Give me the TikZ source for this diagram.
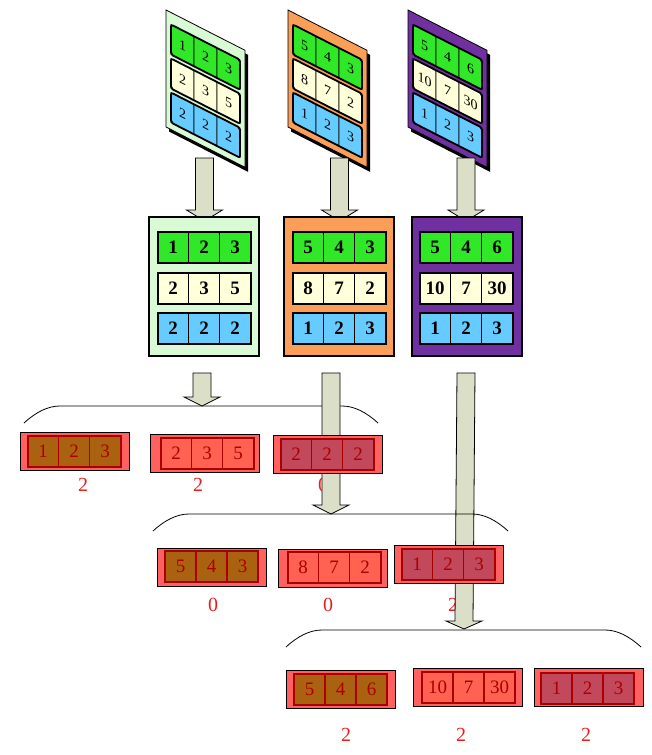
\documentclass[tikz,border=0pt]{standalone}
\usepackage{fontspec}
\setmainfont{Liberation Serif}
\usepackage{tikz}
\usetikzlibrary{calc}

\definecolor{mintbg}{RGB}{218,250,214}
\definecolor{orangebg}{RGB}{250,158,88}
\definecolor{purplebg}{RGB}{112,48,160}
\definecolor{greencell}{RGB}{48,232,40}
\definecolor{creamcell}{RGB}{255,255,218}
\definecolor{bluecell}{RGB}{102,204,255}
\definecolor{arrowfill}{RGB}{220,223,200}
\definecolor{boxred}{RGB}{255,96,96}
\definecolor{brownrow}{RGB}{170,98,16}
\definecolor{salmonrow}{RGB}{255,98,80}
\definecolor{roserow}{RGB}{194,72,92}
\definecolor{darkred}{RGB}{170,0,0}
\definecolor{labelred}{RGB}{230,30,30}

\tikzset{
  topsheet/.style={draw=black, line width=0.8pt, minimum width=79, minimum height=117, inner sep=0pt},
  topcell/.style={draw=black, line width=0.6pt, minimum width=23, minimum height=30, inner sep=0pt,
    font=\fontsize{14}{14}\selectfont},
  topframe/.style={draw=black, line width=1.8pt, rounded corners=2pt, minimum height=30, inner sep=0pt},
  midpanel/.style={draw=black, line width=1.8pt, minimum width=110, minimum height=139, inner sep=0pt},
  midcell/.style={draw=black, line width=1.2pt, minimum width=31, minimum height=31, inner sep=0pt,
    font=\fontsize{19}{19}\selectfont\bfseries},
  midframe/.style={draw=black, line width=2pt, minimum height=31, inner sep=0pt},
  redbox/.style={draw=black, line width=0.8pt, fill=boxred, minimum width=109, minimum height=38, inner sep=0pt},
  redcell/.style={draw=darkred, line width=1.2pt, text=darkred, minimum width=31, minimum height=31, inner sep=0pt,
    font=\fontsize{19}{19}\selectfont},
  redframe/.style={draw=darkred, line width=2pt, minimum height=31, inner sep=0pt},
  countlbl/.style={text=labelred, inner sep=0pt, font=\fontsize{20}{20}\selectfont},
  bigarrow/.style={draw=black, line width=0.8pt, fill=arrowfill},
  groupline/.style={draw=black, line width=0.8pt}
}

% #1 name, #2 centre x, #3 y, #4 pitch, #5 cell style, #6 fill, #7 values, #8 frame style
\newcommand\cellrow[8]{%
  \foreach \v [count=\k] in {#7}
    \node[#5, fill=#6] (#1-\k) at ({#2+(\k-2)*#4}, #3) {\v};
  \node[#8, minimum width={3*#4}] (#1) at (#2, #3) {};
}

% #1 name, #2 left x, #3 colour, #4-#6 rows
\newcommand\skewsheet[6]{%
  \begin{scope}[shift={(#2,10)}, yslant=-0.51, transform shape]
    \fill[black] (3,3) rectangle (82,120);
    \node[topsheet, fill=#3] (#1) at (39.5,58.5) {};
    \cellrow{#1a}{39.5}{27}{23}{topcell}{greencell}{#4}{topframe}
    \cellrow{#1b}{39.5}{61}{23}{topcell}{creamcell}{#5}{topframe}
    \cellrow{#1c}{39.5}{95}{23}{topcell}{bluecell}{#6}{topframe}
  \end{scope}}

% #1 top x, #2 top y, #3 tip x, #4 tip y, #5 head length
\newcommand\blockarrow[5]{%
  \draw[bigarrow] ({#1-9},#2) -- ({#1+9},#2) -- ({#3+9},{#4-#5}) -- ({#3+18},{#4-#5})
    -- (#3,#4) -- ({#3-18},{#4-#5}) -- ({#3-9},{#4-#5}) -- cycle;}

% #1 left x, #2 right x, #3 y of the flat part
\newcommand\grouparc[3]{%
  \draw[groupline] (#1,{#3+17}) .. controls ({#1+12},{#3+6}) and ({#1+24},#3) .. ({#1+36},#3)
    -- ({#2-36},#3) .. controls ({#2-24},#3) and ({#2-12},{#3+6}) .. (#2,{#3+17});}

\begin{document}
\begin{tikzpicture}[x=1pt,y=-1pt]
\useasboundingbox (0,0) rectangle (651,755);

% slanted sheets
\skewsheet{s1}{166}{mintbg}{1,2,3}{2,3,5}{2,2,2}
\skewsheet{s2}{288}{orangebg}{5,4,3}{8,7,2}{1,2,3}
\skewsheet{s3}{408}{purplebg}{5,4,6}{10,7,30}{1,2,3}

% arrows down to the flat tables
\blockarrow{204.5}{158}{204.5}{221}{11}
\blockarrow{339.5}{158}{339.5}{221}{11}
\blockarrow{466}{158}{466}{221}{11}

% flat tables
\node[midpanel, fill=mintbg] (m1) at (204,286.5) {};
\cellrow{m1a}{204}{247.5}{31}{midcell}{greencell}{1,2,3}{midframe}
\cellrow{m1b}{204}{288}{31}{midcell}{creamcell}{2,3,5}{midframe}
\cellrow{m1c}{204}{328.5}{31}{midcell}{bluecell}{2,2,2}{midframe}

\node[midpanel, fill=orangebg] (m2) at (339,286.5) {};
\cellrow{m2a}{339}{247.5}{31}{midcell}{greencell}{5,4,3}{midframe}
\cellrow{m2b}{339}{288}{31}{midcell}{creamcell}{8,7,2}{midframe}
\cellrow{m2c}{339}{328.5}{31}{midcell}{bluecell}{1,2,3}{midframe}

\node[midpanel, fill=purplebg] (m3) at (467,286.5) {};
\cellrow{m3a}{466}{247.5}{31}{midcell}{greencell}{5,4,6}{midframe}
\cellrow{m3b}{466}{288}{31}{midcell}{creamcell}{10,7,30}{midframe}
\cellrow{m3c}{466}{328.5}{31}{midcell}{bluecell}{1,2,3}{midframe}

% first group
\grouparc{24}{378}{406}
\node[countlbl] (c1a) at (83,485) {2};
\node[countlbl] (c1b) at (198,485) {2};
\node[countlbl] (c1c) at (323,485) {0};
\blockarrow{202}{373}{202}{406}{9}
\blockarrow{331}{373}{331}{514}{9}
\node[redbox] (r1a) at (75,451.5) {};
\cellrow{r1ac}{74}{451.5}{31}{redcell}{brownrow}{1,2,3}{redframe}
\node[redbox] (r1b) at (204.5,453) {};
\cellrow{r1bc}{207}{453.5}{31}{redcell}{salmonrow}{2,3,5}{redframe}
\node[redbox] (r1c) at (327.5,454.5) {};
\cellrow{r1cc}{327}{454.5}{31}{redcell}{roserow}{2,2,2}{redframe}

% second group
\node[countlbl] (c2a) at (213,605) {0};
\node[countlbl] (c2b) at (328,605) {0};
\node[countlbl] (c2c) at (453,605) {2};
\blockarrow{466}{373}{464}{629}{8}
\grouparc{153}{508}{514}
\node[redbox] (r2a) at (211.5,567.5) {};
\cellrow{r2ac}{211.5}{566.5}{31}{redcell}{brownrow}{5,4,3}{redframe}
\node[redbox] (r2b) at (333,568) {};
\cellrow{r2bc}{334}{567.5}{31}{redcell}{salmonrow}{8,7,2}{redframe}
\node[redbox] (r2c) at (449,564) {};
\cellrow{r2cc}{448}{564.5}{31}{redcell}{roserow}{1,2,3}{redframe}

% third group
\grouparc{286}{641}{630}
\node[countlbl] (c3a) at (346,735) {2};
\node[countlbl] (c3b) at (461,735) {2};
\node[countlbl] (c3c) at (586,735) {2};
\node[redbox] (r3a) at (341,689) {};
\cellrow{r3ac}{340.5}{689.5}{31}{redcell}{brownrow}{5,4,6}{redframe}
\node[redbox] (r3b) at (467.5,687.5) {};
\cellrow{r3bc}{468.5}{687.5}{31}{redcell}{salmonrow}{10,7,30}{redframe}
\node[redbox] (r3c) at (588.5,687.5) {};
\cellrow{r3cc}{587.5}{688}{31}{redcell}{roserow}{1,2,3}{redframe}
\end{tikzpicture}
\end{document}
